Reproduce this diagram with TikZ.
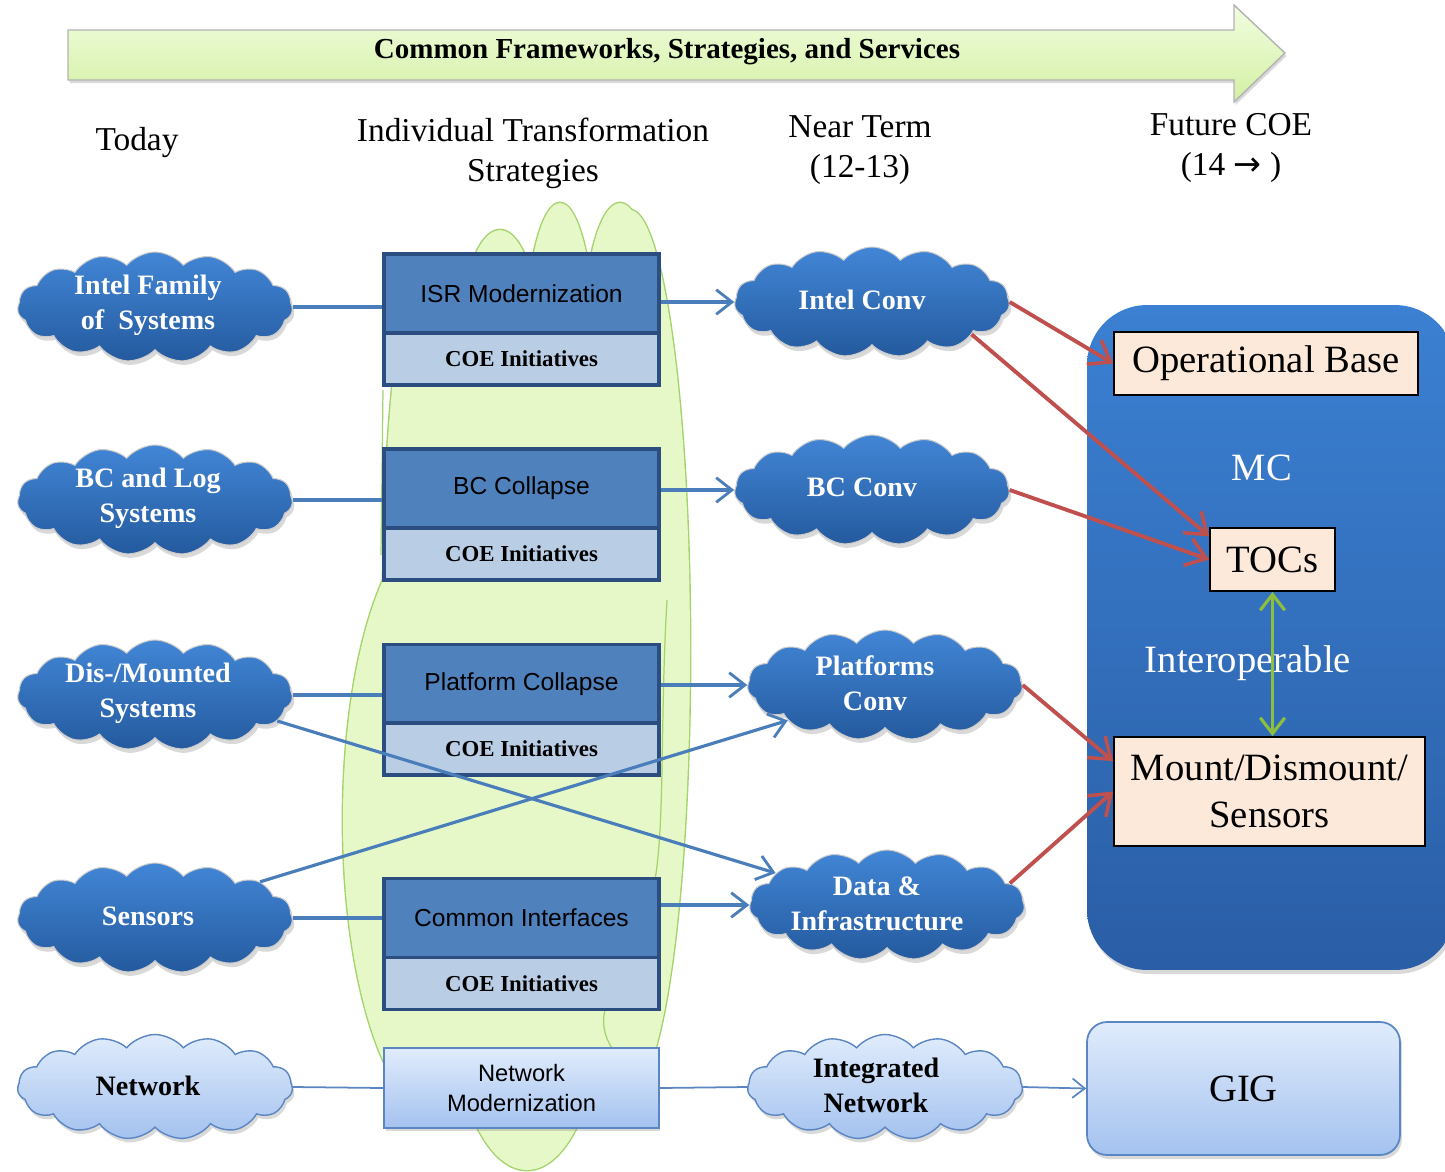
\documentclass[tikz,border=0pt]{standalone}
\usepackage{fontspec}
\setmainfont{Liberation Serif}
\newfontfamily\sansf{Liberation Sans}
\newfontfamily\dejavu{DejaVu Sans}
\usetikzlibrary{arrows.meta,shapes.symbols,shadows,calc}
\definecolor{dctop}{HTML}{4286D6}
\definecolor{dcbot}{HTML}{245A9E}
\definecolor{boxblue}{HTML}{4F81BD}
\definecolor{boxline}{HTML}{2C4D80}
\definecolor{coe}{HTML}{B9CDE5}
\definecolor{lctop}{HTML}{E0ECFC}
\definecolor{lcbot}{HTML}{A4C2EF}
\definecolor{lcline}{HTML}{5B86C4}
\definecolor{peach}{HTML}{FDE9D9}
\definecolor{redarr}{HTML}{C0504D}
\definecolor{greenarr}{HTML}{8CBF3F}
\definecolor{blobfill}{HTML}{E6F8C8}
\definecolor{blobline}{HTML}{A3D36B}
\definecolor{bantop}{HTML}{F2FDE0}
\definecolor{banbot}{HTML}{D3F0A3}
\definecolor{conn}{HTML}{4A7EBB}
\definecolor{mctop}{HTML}{3B80D2}
\definecolor{mcbot}{HTML}{2A5EA6}
\begin{document}
\begin{tikzpicture}[x=0.02cm,y=-0.02cm,
  dcloud/.style={cloud,cloud puffs=15,cloud puff arc=100,aspect=2.5,
    minimum width=5.5cm,minimum height=2.2cm,inner sep=0pt,
    top color=dctop,bottom color=dcbot,draw=black!20,line width=0.6pt,
    drop shadow={shadow xshift=0.04cm,shadow yshift=-0.08cm,opacity=0.3}},
  lcloud/.style={cloud,cloud puffs=15,cloud puff arc=100,aspect=2.5,
    minimum width=5.5cm,minimum height=2.1cm,inner sep=0pt,
    top color=lctop,bottom color=lcbot,draw=lcline,line width=0.8pt,
    drop shadow={shadow xshift=0.04cm,shadow yshift=-0.08cm,opacity=0.3}},
  wtxt/.style={text=white,align=center,font=\bfseries\fontsize{16}{20}\selectfont},
  btxt/.style={text=black,align=center,font=\bfseries\fontsize{16}{20}\selectfont},
  topbox/.style={rectangle,fill=boxblue,draw=boxline,line width=1.8pt,
    minimum width=5.5cm,minimum height=1.58cm,inner sep=0pt,
    font=\sansf\fontsize{14}{17}\selectfont},
  coebox/.style={rectangle,fill=coe,draw=boxline,line width=1.8pt,
    minimum width=5.5cm,minimum height=1.04cm,inner sep=0pt,
    font=\bfseries\fontsize{13}{15}\selectfont},
  pbox/.style={rectangle,fill=peach,draw=black,line width=1pt,inner sep=0pt,
    align=center,font=\fontsize{22}{26.7}\selectfont},
  head/.style={align=center,font=\fontsize{19}{22.8}\selectfont},
  bline/.style={draw=conn,line width=1.8pt},
  barr/.style={draw=conn,line width=1.8pt,-{Straight Barb[length=9pt,width=14pt,line width=1.6pt]}},
  rarr/.style={draw=redarr,line width=2.2pt,-{Straight Barb[length=11pt,width=16pt,line width=2pt]}},
  larr/.style={draw=lcline,line width=1pt}
]
\useasboundingbox (0,0) rectangle (1445,1171);

% banner arrow
\path[top color=bantop,bottom color=banbot,draw=black!30,line width=0.8pt,
  drop shadow={shadow xshift=0.03cm,shadow yshift=-0.06cm,opacity=0.3}]
  (68,30) -- (1234,30) -- (1234,5) -- (1285,53) -- (1234,102) -- (1234,80) -- (68,80) -- cycle;
\node[font=\bfseries\fontsize{16.5}{19}\selectfont] (banner) at (667,52) {Common Frameworks, Strategies, and Services};

% headings
\node[head] (today) at (137,143) {Today};
\node[head] (its) at (533,153) {Individual Transformation\\Strategies};
\node[head] (near) at (860,150) {Near Term\\(12-13)};
\node[head] (fut) at (1231,148) {Future COE\\(14 {\dejavu →} )};

% green blob
\def\blobparts{535/700/150/430, 500/380/45/150, 560/353/35/150, 620/353/38/150,
    630/650/60/440, 425/600/42/340, 443/820/100/300, 527/1000/75/170, 610/960/45/120, 470/950/80/110}
\foreach \cx/\cy/\rx/\ry in \blobparts{
  \draw[blobline,line width=1.6pt] (\cx,\cy) ellipse [x radius=\rx, y radius=\ry];
}
\foreach \cx/\cy/\rx/\ry in \blobparts{
  \fill[blobfill] (\cx,\cy) ellipse [x radius=\rx, y radius=\ry];
}
\draw[blobline,line width=0.7pt] (383,390) -- (381,555);
\draw[blobline,line width=0.7pt] (667,600) .. controls (660,720) and (665,820) .. (655,880);
\draw[blobline,line width=0.7pt] (605,1010) .. controls (600,1030) and (610,1045) .. (612,1048);

% MC container
\node[rectangle,rounded corners=1.2cm,top color=mctop,bottom color=mcbot,
  minimum width=7.36cm,minimum height=13.3cm,inner sep=0pt,
  drop shadow={shadow xshift=0.04cm,shadow yshift=-0.08cm,opacity=0.3}] (mc) at (1271,637.5) {};
\node[text=white,font=\fontsize{22}{26}\selectfont] (mct) at (1262,468) {MC};
\node[text=white,font=\fontsize{22}{26}\selectfont] (iop) at (1248,663) {Interoperable};
\node[pbox,minimum width=6.08cm,minimum height=1.26cm] (ob) at (1266,363.5) {Operational Base};
\node[pbox,minimum width=2.5cm,minimum height=1.26cm] (toc) at (1272.5,559.5) {TOCs};
\node[pbox,minimum width=6.22cm,minimum height=2.18cm] (md) at (1269.5,791.5) {Mount/Dismount/\\Sensors};
\draw[greenarr,line width=2pt,{Straight Barb[length=9pt,width=14pt,line width=1.8pt]}-{Straight Barb[length=9pt,width=14pt,line width=1.8pt]}]
  (toc.south) -- (toc.south |- md.north);

% GIG
\node[rectangle,rounded corners=0.4cm,top color=lctop,bottom color=lcbot,draw=lcline,line width=1pt,
  minimum width=6.26cm,minimum height=2.66cm,font=\fontsize{22}{26}\selectfont,
  drop shadow={shadow xshift=0.04cm,shadow yshift=-0.08cm,opacity=0.3}] (gig) at (1243.5,1088.5) {GIG};

% centre boxes
\node[topbox] (isr) at (521.5,293.5) {ISR Modernization};
\node[coebox] (isrc) at (521.5,359) {COE Initiatives};
\node[topbox] (bcc) at (521.5,488.5) {BC Collapse};
\node[coebox] (bccc) at (521.5,554) {COE Initiatives};
\node[topbox] (plc) at (521.5,684) {Platform Collapse};
\node[coebox] (plcc) at (521.5,749) {COE Initiatives};
\node[topbox] (cif) at (521.5,918) {Common Interfaces};
\node[coebox] (cifc) at (521.5,983.5) {COE Initiatives};
\node[rectangle,top color=lctop,bottom color=lcbot,draw=lcline,line width=1pt,
  minimum width=5.5cm,minimum height=1.6cm,inner sep=0pt,align=center,
  font=\sansf\fontsize{13.5}{17.6}\selectfont,
  drop shadow={shadow xshift=0.03cm,shadow yshift=-0.06cm,opacity=0.3}] (nm) at (521.5,1088) {Network\\Modernization};

% left clouds
\node[dcloud] (ifs) at (155,307) {};
\node[wtxt] (ifst) at (148,305) {Intel Family\\of\ \ Systems};
\node[dcloud] (bcl) at (155,500) {};
\node[wtxt] (bclt) at (148,498) {BC and Log\\Systems};
\node[dcloud] (dms) at (155,695) {};
\node[wtxt] (dmst) at (148,693) {Dis-/Mounted\\Systems};
\node[dcloud] (sen) at (155,918) {};
\node[wtxt] (sent) at (148,916) {Sensors};
\node[lcloud] (net) at (155,1087) {};
\node[btxt] (nett) at (148,1086) {Network};

% right clouds
\node[dcloud] (ic) at (872,302) {};
\node[wtxt] (ict) at (862,300) {Intel Conv};
\node[dcloud] (bcv) at (872,490) {};
\node[wtxt] (bcvt) at (862,487) {BC Conv};
\node[dcloud] (pc) at (885,685) {};
\node[wtxt] (pct) at (875,683) {Platforms\\Conv};
\node[dcloud] (di) at (887,905) {};
\node[wtxt] (dit) at (877,904) {Data \&\\Infrastructure};
\node[lcloud] (inet) at (885,1087) {};
\node[btxt] (inett) at (876,1085) {Integrated\\Network};

% left connectors
\draw[bline] (ifs.east) -- (ifs.east -| isr.west);
\draw[bline] (bcl.east) -- (bcl.east -| bcc.west);
\draw[bline] (dms.east) -- (dms.east -| plc.west);
\draw[bline] (sen.east) -- (sen.east -| cif.west);
\draw[larr] (net.east) -- (nm.west);

% cross connectors
\draw[barr] (dms.-12) -- (di.164);
\draw[barr] (sen.19) -- (pc.200);

% centre to right
\draw[barr] (isr.east |- ic.west) -- (ic.west);
\draw[barr] (bcc.east |- bcv.west) -- (bcv.west);
\draw[barr] (plc.east |- pc.west) -- (pc.west);
\draw[barr] (cif.east |- di.west) -- (di.west);
\draw[larr] (nm.east) -- (inet.west);
\draw[larr,-{Straight Barb[length=7pt,width=11pt,line width=1pt]}] (inet.east) -- (gig.west);

% red arrows
\draw[rarr] (ic.east) -- (ob.west);
\draw[rarr] (ic.-18) -- (toc.160);
\draw[rarr] (bcv.east) -- (toc.west);
\draw[rarr] (pc.east) -- (md.169);
\draw[rarr] (di.10) -- (md.west);
\end{tikzpicture}
\end{document}
